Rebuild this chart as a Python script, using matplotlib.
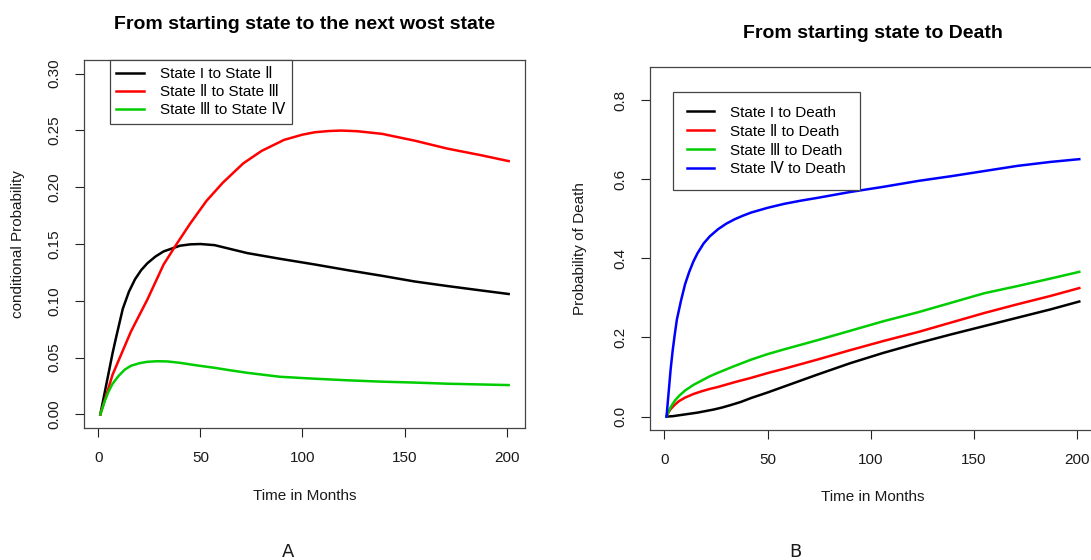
import numpy as np
import matplotlib
matplotlib.use('Agg')
import matplotlib.pyplot as plt

plt.rcParams['font.family'] = ['Liberation Sans', 'DejaVu Sans']

# panel A: from starting state to the next worst state
t_I_II = [1, 3, 5, 7, 9, 12, 15, 18, 21, 24, 28, 32, 36, 40, 45, 50, 57, 65, 73, 89,
          106, 122, 139, 155, 171, 188, 201]
p_I_II = [0, 0.018, 0.036, 0.054, 0.070, 0.093, 0.108, 0.119, 0.127, 0.133, 0.139,
          0.1435, 0.146, 0.1485, 0.1497, 0.150, 0.149, 0.1455, 0.142, 0.137, 0.132,
          0.127, 0.122, 0.117, 0.113, 0.109, 0.106]

t_II_III = [1, 7, 16, 24, 32, 38, 45, 53, 61, 71, 80, 91, 100, 106, 113, 119, 127,
            139, 155, 171, 188, 201]
p_II_III = [0, 0.035, 0.073, 0.101, 0.132, 0.149, 0.168, 0.188, 0.204, 0.221, 0.232,
            0.2417, 0.2463, 0.2484, 0.2495, 0.2499, 0.2493, 0.247, 0.241, 0.234, 0.228,
            0.223]

t_III_IV = [1, 3, 5, 7, 10, 13, 16, 20, 24, 29, 34, 40, 48, 57, 65, 73, 89, 106, 122,
            139, 155, 171, 201]
p_III_IV = [0, 0.011, 0.020, 0.027, 0.034, 0.0395, 0.0428, 0.045, 0.0463, 0.0468,
            0.0466, 0.0454, 0.0432, 0.041, 0.0387, 0.0366, 0.0331, 0.0314, 0.030,
            0.0288, 0.028, 0.027, 0.0258]

# panel B: from starting state to death
t_I_D = [1, 4, 8, 12, 16, 20, 24, 28, 32, 37, 42, 50, 58, 66, 74, 90, 106, 123, 139,
         155, 171, 187, 201]
p_I_D = [0, 0.001, 0.004, 0.007, 0.010, 0.014, 0.018, 0.023, 0.029, 0.037, 0.047,
         0.061, 0.076, 0.091, 0.106, 0.135, 0.161, 0.186, 0.208, 0.229, 0.250, 0.271,
         0.291]

t_D = [1, 2, 3, 5, 7, 10, 14, 18, 22, 26, 34, 42, 50, 58, 74, 90, 106, 123, 139, 155,
       171, 187, 201]
p_II_D = [0, 0.011, 0.019, 0.030, 0.039, 0.048, 0.057, 0.064, 0.070, 0.075, 0.087,
          0.098, 0.110, 0.121, 0.144, 0.168, 0.191, 0.214, 0.238, 0.262, 0.284, 0.305,
          0.325]
p_III_D = [0, 0.013, 0.024, 0.040, 0.052, 0.066, 0.080, 0.091, 0.102, 0.111, 0.128,
           0.144, 0.158, 0.170, 0.193, 0.217, 0.241, 0.264, 0.288, 0.312, 0.330, 0.349,
           0.366]

t_IV_D = [1, 2, 3, 4, 5, 6, 8, 10, 12, 14, 16, 19, 22, 26, 30, 34, 38, 42, 50, 58, 66,
          74, 90, 106, 123, 139, 155, 171, 187, 201]
p_IV_D = [0, 0.06, 0.12, 0.168, 0.208, 0.245, 0.293, 0.335, 0.366, 0.392, 0.413, 0.438,
          0.456, 0.474, 0.488, 0.499, 0.508, 0.516, 0.528, 0.538, 0.546, 0.553, 0.568,
          0.581, 0.596, 0.608, 0.621, 0.634, 0.644, 0.651]

labels_A = ['State I to State Ⅱ', 'State Ⅱ to State Ⅲ', 'State Ⅲ to State Ⅳ']
labels_B = ['State I to Death', 'State Ⅱ to Death', 'State Ⅲ to Death', 'State Ⅳ to Death']

GREEN = '#00CD00'
TXT = '#1a1a1a'
lw = 1.8

fig = plt.figure(figsize=(10.91, 5.6), dpi=100)
ax1 = fig.add_axes([0.0770, 0.2357, 0.4042, 0.6571])
ax2 = fig.add_axes([0.5958, 0.2321, 0.4086, 0.6482])

ax1.plot(t_I_II, p_I_II, color='black', lw=lw, label=labels_A[0])
ax1.plot(t_II_III, p_II_III, color='red', lw=lw, label=labels_A[1])
ax1.plot(t_III_IV, p_III_IV, color=GREEN, lw=lw, label=labels_A[2])

ax2.plot(t_I_D, p_I_D, color='black', lw=lw, label=labels_B[0])
ax2.plot(t_D, p_II_D, color='red', lw=lw, label=labels_B[1])
ax2.plot(t_D, p_III_D, color=GREEN, lw=lw, label=labels_B[2])
ax2.plot(t_IV_D, p_IV_D, color='blue', lw=lw, label=labels_B[3])

ax1.set_xlim(-7, 209)
ax1.set_ylim(-0.012, 0.312)
ax1.set_yticks(np.arange(0, 0.31, 0.05))
ax1.set_yticklabels(['%.2f' % v for v in np.arange(0, 0.31, 0.05)])

ax2.set_xlim(-7, 209)
ax2.set_ylim(-0.034, 0.884)
ax2.set_yticks([0, 0.2, 0.4, 0.6, 0.8])
ax2.set_yticklabels(['0.0', '0.2', '0.4', '0.6', '0.8'])

for ax in (ax1, ax2):
    ax.set_xticks([0, 50, 100, 150, 200])
    for s in ax.spines.values():
        s.set_color('#444444')
        s.set_linewidth(0.9)
    ax.tick_params(axis='both', length=6.5, width=0.8, color='#222222',
                   labelsize=11, labelcolor=TXT, pad=10)
    ax.tick_params(axis='y', labelrotation=90)
    for lab in ax.get_yticklabels():
        lab.set_va('center')
    ax.set_xlabel('Time in Months', fontsize=11, color=TXT)

ax1.set_title('From starting state to the next wost state', fontsize=14,
              fontweight='bold', pad=22)
ax2.set_title('From starting state to Death', fontsize=14, fontweight='bold', pad=21)

ax1.set_ylabel('conditional Probability', fontsize=11, color=TXT)
ax2.set_ylabel('Probability of Death', fontsize=11, color=TXT)
ax1.yaxis.set_label_coords(-0.134, 0.5)
ax2.yaxis.set_label_coords(-0.141, 0.5)
ax1.xaxis.set_label_coords(0.5, -0.166)
ax2.xaxis.set_label_coords(0.5, -0.165)

leg_kw = dict(fontsize=11, fancybox=False, framealpha=1, edgecolor='#444444',
              handlelength=1.8, handletextpad=1.05, borderaxespad=0)
l1 = ax1.legend(loc='upper left', bbox_to_anchor=(0.058, 1.0), borderpad=0.45,
                labelspacing=0.28, **leg_kw)
l2 = ax2.legend(loc='upper left', bbox_to_anchor=(0.052, 0.931), borderpad=0.9,
                labelspacing=0.32, **leg_kw)
for lg in (l1, l2):
    lg.get_frame().set_linewidth(0.9)
    for h in lg.get_lines():
        h.set_linewidth(1.8)

fig.text(288 / 1091, 1 - 552 / 560, 'A', fontsize=13, ha='center', va='center',
         family='DejaVu Sans', color=TXT)
fig.text(795 / 1091, 1 - 552 / 560, 'B', fontsize=13, ha='center', va='center',
         family='DejaVu Sans', color=TXT)

fig.savefig('out.png', dpi=100, facecolor='white')
